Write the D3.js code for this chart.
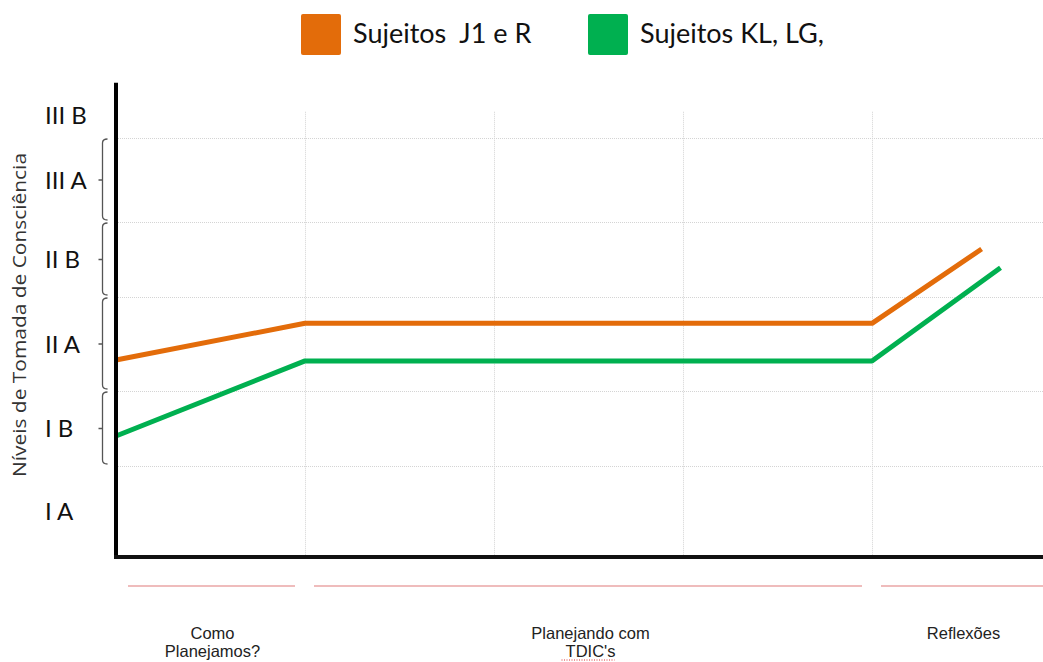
<!DOCTYPE html>
<html>
<head>
<meta charset="utf-8">
<script src="https://cdn.jsdelivr.net/npm/d3@7"></script>
<style>
  html, body { margin: 0; padding: 0; background: #fff; }
  svg { display: block; }
</style>
</head>
<body>
<svg id="chart" width="1043" height="662"></svg>
<script>
// Levels of awareness (y axis), bottom to top
const levels = ["I A", "I B", "II A", "II B", "III A", "III B"];

// Stages along the x axis: label lines and the span each one covers
const stageLines = [["Como", "Planejamos?"], ["Planejando com", "TDIC's"], ["Reflexões"]];
const stageStart = [0, 1, 4];
const stageEnd = [1, 4, 4.905];

// Series
const seriesNames = ["Sujeitos  J1 e R", "Sujeitos KL, LG,"];
const seriesColors = ["#E36C0A", "#00B050"];
const j1rX = [0, 1, 4, 4.58];
const j1rY = [2.33, 2.72, 2.72, 3.64];
const klX = [0, 1, 4, 4.68];
const klY = [1.40, 2.32, 2.32, 3.39];

const svg = d3.select("#chart");

// Band boundaries of each level are not evenly spaced, so a piecewise scale is used
const y = d3.scaleLinear()
  .domain([0, 1, 2, 3, 4, 5, 6])
  .range([557, 466, 391, 297, 222, 138, 92]);
const x = d3.scaleLinear().domain([0, 4]).range([116, 872]);
const xEnd = 4.905;

// Grid
const grid = svg.append("g").attr("stroke", "#d4d4d4").attr("stroke-width", 1)
  .attr("stroke-dasharray", "1,1");
grid.selectAll("line.h").data([1, 2, 3, 4, 5]).join("line")
  .attr("class", "h")
  .attr("x1", x(0)).attr("x2", x(xEnd))
  .attr("y1", d => Math.round(y(d)) + 0.5).attr("y2", d => Math.round(y(d)) + 0.5);
grid.selectAll("line.v").data([1, 2, 3, 4]).join("line")
  .attr("class", "v")
  .attr("x1", d => Math.round(x(d)) + 0.5).attr("x2", d => Math.round(x(d)) + 0.5)
  .attr("y1", y(5.57)).attr("y2", y(0));

// Brackets grouping the middle levels
const brackets = svg.append("g").attr("fill", "none").attr("stroke", "#555").attr("stroke-width", 1.3);
[1, 2, 3, 4].forEach(i => {
  const top = y(i + 1) + 1, bot = y(i) - 2, mid = y(i + 0.5);
  const bx = 102.5;
  brackets.append("path")
    .attr("d", `M${bx + 5},${top} Q${bx},${top} ${bx},${top + 4} L${bx},${bot - 4} Q${bx},${bot} ${bx + 5},${bot} M${bx},${mid} L${bx - 4},${mid}`);
});

// Level labels
svg.append("g").selectAll("text").data(levels).join("text")
  .attr("x", 45)
  .attr("y", (d, i) => y(i + 0.5))
  .attr("dy", "0.36em")
  .attr("font-family", "Lato, 'Open Sans', sans-serif")
  .attr("font-size", 24)
  .attr("fill", "#111")
  .text(d => d);

// Y title
svg.append("text")
  .attr("transform", `translate(26,315) rotate(-90)`)
  .attr("text-anchor", "middle")
  .attr("font-family", "'Open Sans', sans-serif")
  .attr("font-size", 18)
  .attr("textLength", 324)
  .attr("lengthAdjust", "spacingAndGlyphs")
  .attr("fill", "#333")
  .text("Níveis de Tomada de Consciência");

// Series lines
const line = d3.line().x(d => x(d[0])).y(d => y(d[1]));
const series = [d3.zip(j1rX, j1rY), d3.zip(klX, klY)];
svg.append("g").selectAll("path").data(series).join("path")
  .attr("d", line)
  .attr("fill", "none")
  .attr("stroke", (d, i) => seriesColors[i])
  .attr("stroke-width", 5)
  .attr("stroke-linejoin", "round");

// Axes
svg.append("line").attr("x1", x(0)).attr("x2", x(0)).attr("y1", y(6.2)).attr("y2", y(0) + 2)
  .attr("stroke", "#000").attr("stroke-width", 4);
svg.append("line").attr("x1", x(0) - 2).attr("x2", x(xEnd)).attr("y1", y(0)).attr("y2", y(0))
  .attr("stroke", "#111").attr("stroke-width", 4);

// Stage separators and labels
const stages = svg.append("g");
stageLines.forEach((lines, i) => {
  const x0 = x(stageStart[i]) + (i === 0 ? 12 : 9);
  const x1 = i === stageLines.length - 1 ? x(stageEnd[i]) : x(stageEnd[i]) - 10;
  stages.append("line").attr("x1", x0).attr("x2", x1).attr("y1", 586).attr("y2", 586)
    .attr("stroke", "#e07a7a").attr("stroke-width", 1.2);
  const cx = (x(stageStart[i]) + x(stageEnd[i])) / 2 + (i === 2 ? 6 : 2);
  const t = stages.append("text")
    .attr("x", cx).attr("y", 639)
    .attr("text-anchor", "middle")
    .attr("font-family", "'Liberation Sans', Arial, sans-serif")
    .attr("font-size", 16.5)
    .attr("fill", "#222");
  lines.forEach((s, k) => t.append("tspan").attr("x", cx).attr("dy", k === 0 ? 0 : 18).text(s));
});
// spell-check style underline under the second line of the middle stage
const mid = (x(1) + x(4)) / 2 + 2;
stages.append("line").attr("x1", mid - 29).attr("x2", mid + 24).attr("y1", 660).attr("y2", 660)
  .attr("stroke", "#d33").attr("stroke-width", 1.2).attr("stroke-dasharray", "1,1.5");

// Legend
const legendX = [301, 588];
const legend = svg.append("g");
seriesNames.forEach((name, i) => {
  legend.append("rect").attr("x", legendX[i]).attr("y", 14).attr("width", 40).attr("height", 41)
    .attr("rx", 2).attr("fill", seriesColors[i]);
  legend.append("text").attr("x", legendX[i] + 52).attr("y", 43)
    .attr("font-family", "Lato, 'Open Sans', sans-serif")
    .attr("font-size", 27)
    .attr("fill", "#111")
    .attr("xml:space", "preserve")
    .style("white-space", "pre")
    .text(name);
});
</script>
</body>
</html>
